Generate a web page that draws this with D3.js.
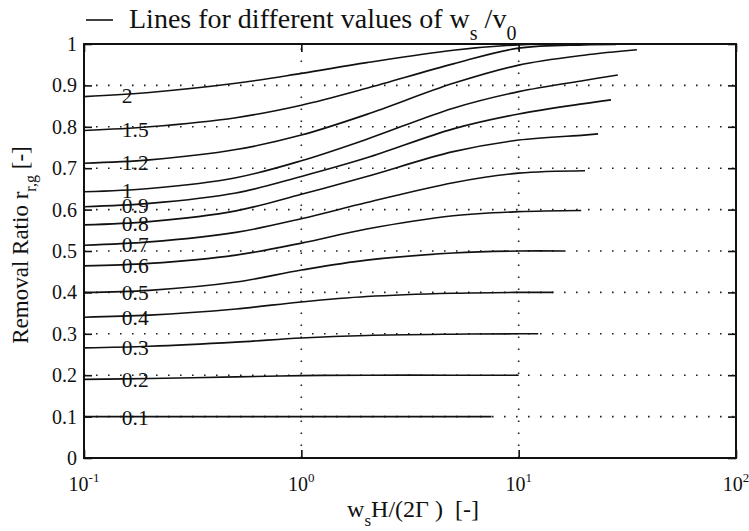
<!DOCTYPE html>
<html>
<head>
<meta charset="utf-8">
<script src="https://cdn.jsdelivr.net/npm/d3@7"></script>
<style>
  body { margin: 0; background: #fff; }
</style>
</head>
<body>
<svg id="chart" width="749" height="531"></svg>
<script>
// w_s / v_0 for each curve, top to bottom
const ratioLabels = ["2", "1.5", "1.2", "1", "0.9", "0.8", "0.7", "0.6", "0.5", "0.4", "0.3", "0.2", "0.1"];

// abscissa w_s H / (2Γ) where each curve is sampled
const sampleX = [0.1, 0.2, 0.5, 1, 2, 5, 10, 20];

// removal ratio r_r,g at sampleX (null = past the end of that curve)
const removalRatio = [
  [0.873, 0.883, 0.905, 0.929, 0.955, 0.985, 0.998, null],
  [0.791, 0.800, 0.822, 0.852, 0.893, 0.952, 0.990, 0.998],
  [0.712, 0.720, 0.745, 0.780, 0.830, 0.905, 0.949, 0.973],
  [0.643, 0.651, 0.677, 0.718, 0.770, 0.845, 0.885, 0.912],
  [0.607, 0.615, 0.640, 0.680, 0.725, 0.795, 0.831, 0.856],
  [0.563, 0.571, 0.597, 0.637, 0.680, 0.740, 0.768, 0.780],
  [0.514, 0.522, 0.545, 0.578, 0.617, 0.665, 0.688, null],
  [0.464, 0.470, 0.490, 0.519, 0.553, 0.585, 0.595, null],
  [0.400, 0.405, 0.425, 0.454, 0.478, 0.495, 0.500, null],
  [0.340, 0.345, 0.360, 0.377, 0.390, 0.398, 0.400, null],
  [0.266, 0.270, 0.280, 0.290, 0.296, 0.299, 0.300, null],
  [0.190, 0.192, 0.196, 0.199, 0.200, 0.200, null, null],
  [0.100, 0.100, 0.100, 0.100, 0.100, 0.100, null, null]
];

// last point of each curve
const endX = [16, 28, 35, 28.6, 26.6, 23.2, 20.2, 19.4, 16.2, 14.4, 12.3, 10, 7.5];
const endY = [1.000, 0.999, 0.986, 0.925, 0.865, 0.783, 0.694, 0.598, 0.500, 0.400, 0.300, 0.200, 0.100];

// axis ticks
const yTicks = [0, 0.1, 0.2, 0.3, 0.4, 0.5, 0.6, 0.7, 0.8, 0.9, 1];
const yTickLabels = ["0", "0.1", "0.2", "0.3", "0.4", "0.5", "0.6", "0.7", "0.8", "0.9", "1"];
const xTicks = [0.1, 1, 10, 100];
const xTickExponents = ["-1", "0", "1", "2"];
const xGrid = [1, 10];
const yGrid = [0.1, 0.2, 0.3, 0.4, 0.5, 0.6, 0.7, 0.8, 0.9];

const svg = d3.select("#chart").style("font-family", '"Liberation Serif", "Times New Roman", Tinos');
const plot = { left: 84, right: 736, top: 44, bottom: 458 };
const ink = "#111";

const x = d3.scaleLog().domain([0.1, 100]).range([plot.left, plot.right]);
const y = d3.scaleLinear().domain([0, 1]).range([plot.bottom, plot.top]);

// dotted grid
const grid = svg.append("g")
  .attr("stroke", "#222").attr("stroke-width", 1.6)
  .attr("stroke-dasharray", "1.6,10.4");
grid.selectAll("line.h").data(yGrid).join("line").attr("class", "h")
  .attr("x1", plot.left).attr("x2", plot.right)
  .attr("y1", d => y(d)).attr("y2", d => y(d));
grid.selectAll("line.v").data(xGrid).join("line").attr("class", "v")
  .attr("x1", d => x(d)).attr("x2", d => x(d))
  .attr("y1", plot.bottom).attr("y2", plot.top);

// curves
const line = d3.line()
  .x(d => x(d[0])).y(d => y(d[1]))
  .curve(d3.curveCatmullRom.alpha(0.5));

const curves = removalRatio.map((vals, i) => {
  const pts = [];
  sampleX.forEach((sx, j) => {
    if (vals[j] !== null && sx < endX[i]) pts.push([sx, vals[j]]);
  });
  pts.push([endX[i], endY[i]]);
  return pts;
});

svg.append("g").selectAll("path").data(curves).join("path")
  .attr("d", line)
  .attr("fill", "none").attr("stroke", ink).attr("stroke-width", 1.6);

// curve labels, placed on each curve near x = 0.15
const labelX = 0.15;
svg.append("g").selectAll("text").data(ratioLabels).join("text")
  .attr("x", x(labelX) - 0.5)
  .attr("y", (d, i) => {
    const a = removalRatio[i][0], b = removalRatio[i][1];
    const t = Math.log10(labelX / sampleX[0]) / Math.log10(sampleX[1] / sampleX[0]);
    return y(a + (b - a) * t) + 8.5;
  })
  .attr("font-size", 21.5).attr("fill", ink)
  .text(d => d);

// frame
svg.append("rect")
  .attr("x", plot.left).attr("y", plot.top)
  .attr("width", plot.right - plot.left).attr("height", plot.bottom - plot.top)
  .attr("fill", "none").attr("stroke", ink).attr("stroke-width", 2);

// inward ticks on all four sides
const tickLen = 8;
const axL = d3.axisLeft(y).tickValues(yTicks).tickSize(-tickLen).tickFormat("");
const axR = d3.axisRight(y).tickValues(yTicks).tickSize(-tickLen).tickFormat("");
const axB = d3.axisBottom(x).tickValues(xTicks).tickSize(-tickLen).tickFormat("");
const axT = d3.axisTop(x).tickValues(xTicks).tickSize(-tickLen).tickFormat("");
[[axL, `translate(${plot.left},0)`], [axR, `translate(${plot.right},0)`],
 [axB, `translate(0,${plot.bottom})`], [axT, `translate(0,${plot.top})`]].forEach(([ax, tr]) => {
  const g = svg.append("g").attr("transform", tr).call(ax);
  g.select(".domain").remove();
  g.selectAll("line").attr("stroke", ink).attr("stroke-width", 1.6);
});

// y tick labels
svg.append("g").selectAll("text").data(yTicks).join("text")
  .attr("x", plot.left - 7).attr("y", d => y(d) + 7)
  .attr("text-anchor", "end").attr("font-size", 20).attr("fill", ink)
  .text((d, i) => yTickLabels[i]);

// x tick labels 10^n
const xl = svg.append("g").selectAll("text").data(xTicks).join("text")
  .attr("x", d => x(d)).attr("y", 491)
  .attr("text-anchor", "middle").attr("font-size", 20).attr("fill", ink);
xl.append("tspan").text("10");
xl.append("tspan").attr("dy", -9).attr("font-size", 13).text((d, i) => xTickExponents[i]);

// x axis title
const xt = svg.append("text")
  .attr("x", 413).attr("y", 517).attr("text-anchor", "middle")
  .attr("font-size", 24).attr("fill", ink).style("white-space", "pre");
xt.append("tspan").text("w");
xt.append("tspan").attr("dy", 9).attr("font-size", 17).text("s");
xt.append("tspan").attr("dy", -9).text("H/(2Γ )  [-]");

// y axis title
const yt = svg.append("text")
  .attr("transform", "translate(28,245) rotate(-90)")
  .attr("text-anchor", "middle").attr("font-size", 23).attr("fill", ink)
  .style("white-space", "pre");
yt.append("tspan").text("Removal Ratio r");
yt.append("tspan").attr("dy", 8).attr("font-size", 16).text("r,g");
yt.append("tspan").attr("dy", -8).text(" [-]");

// legend line and caption
svg.append("line")
  .attr("x1", 86).attr("x2", 113).attr("y1", 20).attr("y2", 20)
  .attr("stroke", ink).attr("stroke-width", 1.6);
const lg = svg.append("text")
  .attr("x", 129).attr("y", 28).attr("font-size", 28).attr("fill", ink)
  .style("white-space", "pre");
lg.append("tspan").text("Lines for different values of w");
lg.append("tspan").attr("dy", 12).attr("font-size", 20).text("s");
lg.append("tspan").attr("dy", -12).text(" /v");
lg.append("tspan").attr("dy", 12).attr("font-size", 20).text("0");
</script>
</body>
</html>
